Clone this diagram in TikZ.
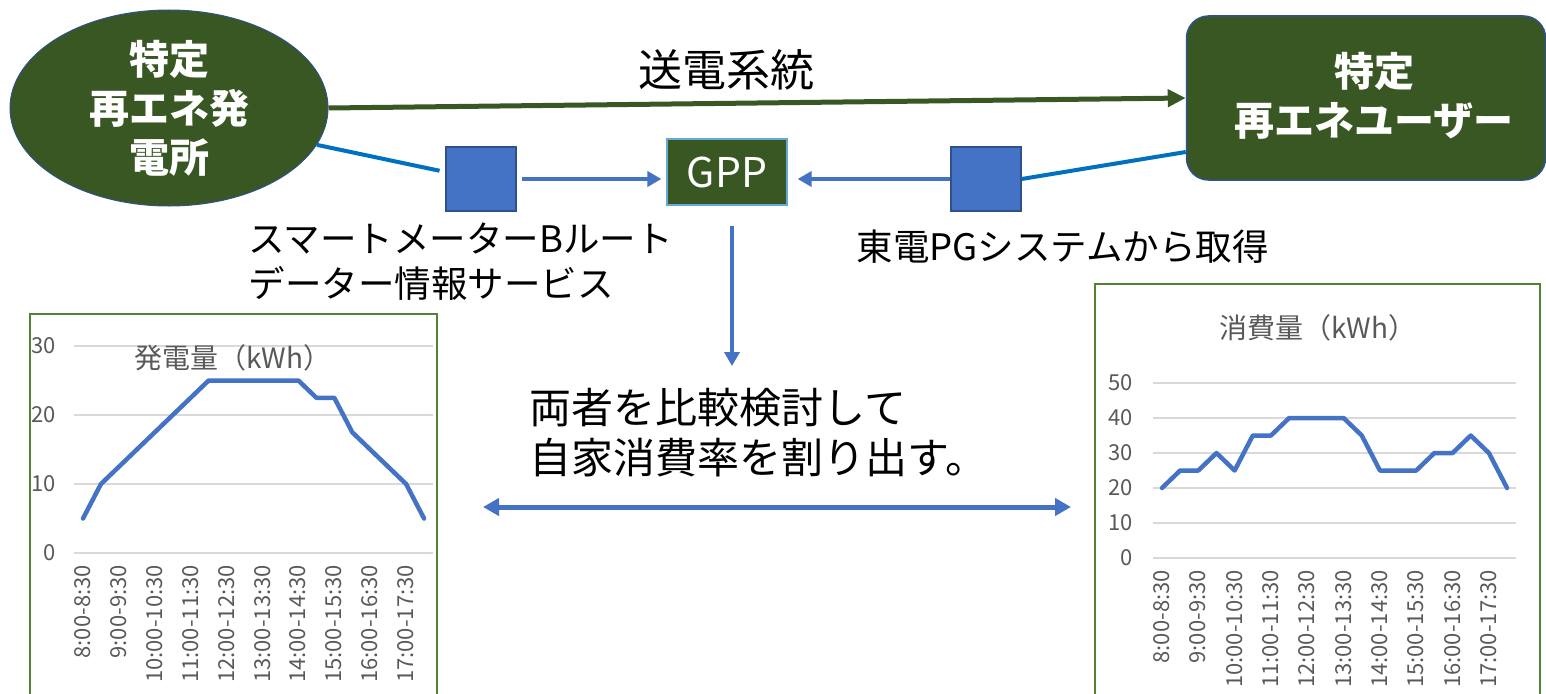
\documentclass[tikz,border=0pt]{standalone}
\usepackage{fontspec}
\setmainfont{Noto Sans CJK JP}
\usepackage{xcolor}
\usetikzlibrary{arrows.meta}
\usetikzlibrary{shapes.geometric}

\definecolor{darkgrn}{HTML}{385723}
\definecolor{accblue}{HTML}{4472C4}
\definecolor{edgeblue}{HTML}{2F528F}
\definecolor{linkblue}{HTML}{0070C0}
\definecolor{framegrn}{HTML}{548235}
\definecolor{gridgray}{HTML}{D9D9D9}
\definecolor{txtgray}{HTML}{595959}

\tikzset{
  wlab/.style={text=white, font=\bfseries\fontsize{40}{49}\selectfont, align=center},
  blab/.style={font=\fontsize{36.5}{45}\selectfont, align=left, anchor=west},
  meter/.style={draw=edgeblue, fill=accblue, line width=1.2pt, minimum width=70pt, minimum height=64pt, inner sep=0},
  ctitle/.style={text=txtgray, font=\fontsize{28}{30}\selectfont},
  ytick/.style={text=txtgray, font=\fontsize{22}{24}\selectfont, anchor=east, inner sep=0},
  xtick/.style={text=txtgray, font=\fontsize{22}{24}\selectfont, anchor=east, rotate=90, inner sep=0},
  grid/.style={gridgray, line width=1.5pt},
  tip/.style={-{Triangle[length=14pt,width=15pt]}}
}

\begin{document}
\begin{tikzpicture}[x=1pt,y=-1pt]
\useasboundingbox (0,0) rectangle (1546,693);

\node[ellipse, fill=darkgrn, draw=edgeblue, line width=1pt, minimum width=318pt, minimum height=196pt, inner sep=0] (v1) at (169,108) {};
\node[wlab] (v1t) at (169,108) {特定\\再エネ発\\電所};
\node[draw=edgeblue, fill=darkgrn, line width=1.5pt, rounded corners=22pt, minimum width=359pt, minimum height=164pt, inner sep=0] (v2) at (1366,98) {};
\node[wlab] (v2t) at (1374,96) {特定\\再エネユーザー};
\node[meter] (m1) at (481,179) {};
\node[meter] (m2) at (986,179) {};
\node[draw=linkblue!60, fill=darkgrn, line width=1.2pt, minimum width=120pt, minimum height=66pt, inner sep=0, text=white, font=\fontsize{41}{44}\selectfont] (gpp) at (727,172) {GPP};
\coordinate (c1) at (732,366);
\coordinate (c2) at (483,507);
\coordinate (c3) at (1071,507);

\node[font=\fontsize{44}{50}\selectfont] (t1) at (726,70) {送電系統};
\node[blab] (t2) at (245,262) {スマートメーターBルート\\データー情報サービス};
\node[blab] (t3) at (853,247) {東電PGシステムから取得};
\node[blab, font=\fontsize{42}{50}\selectfont] (t4) at (526,433) {両者を比較検討して\\自家消費率を割り出す。};

\draw [darkgrn, line width=5pt, -{Triangle[length=18pt,width=17pt]}] (v1.east) -- (v2.west);
\draw [linkblue, line width=4pt, shorten >=6pt] (v1.-14) -- ([yshift=7pt]m1.west);
\draw [accblue, line width=3.5pt, tip, shorten <=5pt, shorten >=5pt] (m1.east) -- (m1.east -| gpp.west);
\draw [accblue, line width=3.5pt, tip, shorten >=10pt] (m2.west) -- (m2.west -| gpp.east);
\draw [linkblue, line width=4pt] (m2.east) -- ([yshift=-54pt]v2.west);
\draw [accblue, line width=4pt, tip] ([xshift=5pt,yshift=-20pt]gpp.south) -- (c1);
\draw [accblue, line width=5pt, {Triangle[length=16pt,width=17pt]}-{Triangle[length=16pt,width=17pt]}] (c2) -- (c3);

% left chart
\draw [framegrn, line width=1.5pt] (30,700) -- (30,314) -- (437,314) -- (437,700);
\draw [grid] (74,346) -- (433,346);
\draw [grid] (74,415) -- (433,415);
\draw [grid] (74,484) -- (433,484);
\draw [grid] (74,553) -- (433,553);
\node[ytick] (a30) at (56,346) {30};
\node[ytick] (a20) at (56,415) {20};
\node[ytick] (a10) at (56,484) {10};
\node[ytick] (a0) at (56,553) {0};
\node[ctitle] (at) at (233,358) {発電量（kWh）};
\begin{scope}[shift={(83,553)}, x=17.95pt, y=6.9pt]
\draw [accblue, line width=4.5pt, line join=round, line cap=round] plot coordinates {(0,5) (1,10) (2,12.5) (3,15) (4,17.5) (5,20) (6,22.5) (7,25) (8,25) (9,25) (10,25) (11,25) (12,25) (13,22.5) (14,22.5) (15,17.5) (16,15) (17,12.5) (18,10) (19,5)};
\end{scope}
\node[xtick] (ax1) at (83,565) {8:00-8:30};
\node[xtick] (ax2) at (119,565) {9:00-9:30};
\node[xtick] (ax3) at (155,565) {10:00-10:30};
\node[xtick] (ax4) at (191,565) {11:00-11:30};
\node[xtick] (ax5) at (227,565) {12:00-12:30};
\node[xtick] (ax6) at (263,565) {13:00-13:30};
\node[xtick] (ax7) at (298,565) {14:00-14:30};
\node[xtick] (ax8) at (334,565) {15:00-15:30};
\node[xtick] (ax9) at (370,565) {16:00-16:30};
\node[xtick] (ax10) at (406,565) {17:00-17:30};

% right chart
\draw [framegrn, line width=1.5pt] (1095,700) -- (1095,284) -- (1540,284) -- (1540,700);
\draw [grid] (1153,383) -- (1516,383);
\draw [grid] (1153,418) -- (1516,418);
\draw [grid] (1153,453) -- (1516,453);
\draw [grid] (1153,488) -- (1516,488);
\draw [grid] (1153,523) -- (1516,523);
\draw [grid] (1153,558) -- (1516,558);
\node[ytick] (b50) at (1133,383) {50};
\node[ytick] (b40) at (1133,418) {40};
\node[ytick] (b30) at (1133,453) {30};
\node[ytick] (b20) at (1133,488) {20};
\node[ytick] (b10) at (1133,523) {10};
\node[ytick] (b0) at (1133,558) {0};
\node[ctitle] (bt) at (1318,328) {消費量（kWh）};
\begin{scope}[shift={(1162,558)}, x=18.16pt, y=3.5pt]
\draw [accblue, line width=4.5pt, line join=round, line cap=round] plot coordinates {(0,20) (1,25) (2,25) (3,30) (4,25) (5,35) (6,35) (7,40) (8,40) (9,40) (10,40) (11,35) (12,25) (13,25) (14,25) (15,30) (16,30) (17,35) (18,30) (19,20)};
\end{scope}
\node[xtick] (bx1) at (1162,570) {8:00-8:30};
\node[xtick] (bx2) at (1198,570) {9:00-9:30};
\node[xtick] (bx3) at (1235,570) {10:00-10:30};
\node[xtick] (bx4) at (1271,570) {11:00-11:30};
\node[xtick] (bx5) at (1307,570) {12:00-12:30};
\node[xtick] (bx6) at (1344,570) {13:00-13:30};
\node[xtick] (bx7) at (1380,570) {14:00-14:30};
\node[xtick] (bx8) at (1416,570) {15:00-15:30};
\node[xtick] (bx9) at (1453,570) {16:00-16:30};
\node[xtick] (bx10) at (1489,570) {17:00-17:30};
\end{tikzpicture}
\end{document}
